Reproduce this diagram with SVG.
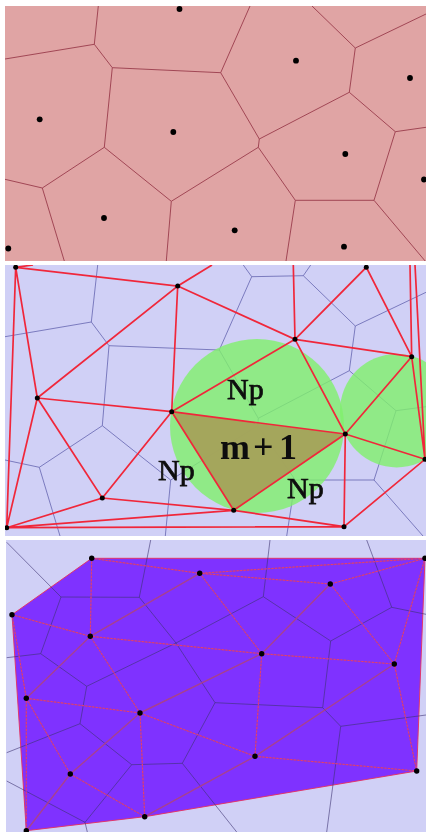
<svg xmlns="http://www.w3.org/2000/svg" width="426" height="832" viewBox="0 0 426 832">
<defs>
<style>
.pt{fill:#000}
.v1{fill:none;stroke:#9A3C4C;stroke-width:.9}
.v2{fill:none;stroke:#6464B0;stroke-width:.8}
.v3{fill:none;stroke:#3A3070;stroke-width:.9;stroke-opacity:.65}
.r2{fill:none;stroke:#F0283A;stroke-width:1.7}
.r3{fill:none;stroke:#A8408E;stroke-width:1.4}
.u3{fill:none;stroke:#9C3CB4;stroke-width:1.2}
.d3{fill:none;stroke:#F03A6A;stroke-width:1;stroke-dasharray:2 1.5}
text{font-family:"Liberation Serif","Times New Roman",serif;fill:#111}
.np{font-size:30px;stroke:#111;stroke-width:.75}
.m{font-size:36px;font-weight:bold}
</style>
<filter id="soft" x="0" y="0" width="100%" height="100%"><feGaussianBlur stdDeviation="0.45"/></filter>
<clipPath id="c1"><rect x="5" y="6" width="421" height="255"/></clipPath>
<clipPath id="c2"><rect x="5" y="265" width="421" height="271"/></clipPath>
<clipPath id="c3"><rect x="6" y="540" width="420" height="292"/></clipPath>
</defs>
<rect width="426" height="832" fill="#fff"/>
<g filter="url(#soft)">
<g id="panel-voronoi">
<rect x="5" y="6" width="421" height="255" fill="#E0A4A4"/>
<g id="voronoi-edges" class="v1" clip-path="url(#c1)">
<path d="M98.3 6L94.3 44.3L5 59M94.3 44.3L112.3 67.7L220.7 72.7L250 6M112.3 67.7L104.3 147.3L42.3 188L5 179.3M42.3 188L64.3 261M104.3 147.3L171.3 201.3L166.3 261M171.3 201.3L258.3 147.3L259.3 139L220.7 72.7M259.3 139L349.3 92.3L355.3 48L312 6M355.3 48L426 14M349.3 92.3L395.3 131.7L426 127.3M395.3 131.7L374 200.3L295.3 200.3L258.3 147.3M295.3 200.3L286 261M374 200.3L426 262"/>
</g>
<g id="voronoi-sites" class="pt" clip-path="url(#c1)">
<circle cx="179.5" cy="9" r="2.9"/><circle cx="296" cy="60.7" r="2.9"/><circle cx="410" cy="78" r="2.9"/><circle cx="39.7" cy="119.3" r="2.9"/><circle cx="173.3" cy="132" r="2.9"/><circle cx="345.3" cy="154" r="2.9"/><circle cx="424" cy="179.5" r="2.9"/><circle cx="104" cy="218" r="2.9"/><circle cx="234.7" cy="230.3" r="2.9"/><circle cx="344" cy="246.7" r="2.9"/><circle cx="8.3" cy="248.5" r="2.9"/>
</g>
</g>
<g id="panel-delaunay">
<rect x="5" y="265" width="421" height="271" fill="#D0D0F6"/>
<g id="voronoi-edges-2" class="v2" clip-path="url(#c2)">
<path d="M97.7 265L91.3 322L5 336.7M91.3 322L109 345.7L219.3 350L251.7 276.7L243.3 265M251.7 276.7L303.3 275.7L310.7 265M303.3 275.7L355.3 326L426 292.3M355.3 326L349.3 370.7L258.3 418.3L219.3 350M258.3 418.3L257.7 425.7L170.7 480L165.3 536M109 345.7L102.3 425.7L39.3 467.3L5 460M39.3 467.3L60 536M102.3 425.7L170.7 480M257.7 425.7L295.3 480L374 480L396 410.7L349.3 370.7M396 410.7L426 406.7M295.3 480L286.7 536M374 480L423 536"/>
</g>
<g id="circles" clip-path="url(#c2)">
<circle cx="257" cy="426" r="87" fill="#80F06C" fill-opacity=".8"/>
<circle cx="396.7" cy="410.7" r="56.7" fill="#80F06C" fill-opacity=".8"/>
<polygon points="171.7,411.7 345.3,434 233.7,510.3" fill="#A6A058" fill-opacity=".93"/>
</g>
<g id="delaunay-edges" class="r2" clip-path="url(#c2)">
<path d="M15.7 267.3L177.7 286L212 265M15.7 267.3L6.7 527.7M15.7 267.3L37.3 398M15.7 267.3L33 265M37.3 398L177.7 286L171.7 411.7M177.7 286L295 339.3L293.3 265M295 339.3L366.3 267.3L411.7 356.7L410 265M295 339.3L411.7 356.7M295 339.3L171.7 411.7M295 339.3L345.3 434L411.7 356.7L425 459.3L415 265M37.3 398L171.7 411.7L345.3 434L425 459.3L344 526.7L6.7 527.7L102.3 498L171.7 411.7L233.7 510.3L345.3 434L344 526.7L233.7 510.3L102.3 498L37.3 398L6.7 527.7M233.7 510.3L6.7 527.7"/>
</g>
<g id="delaunay-sites" class="pt" clip-path="url(#c2)">
<circle cx="15.7" cy="267.3" r="2.5"/><circle cx="177.7" cy="286" r="2.5"/><circle cx="295" cy="339.3" r="2.5"/><circle cx="366.3" cy="267.3" r="2.5"/><circle cx="411.7" cy="356.7" r="2.5"/><circle cx="37.3" cy="398" r="2.5"/><circle cx="171.7" cy="411.7" r="2.5"/><circle cx="345.3" cy="434" r="2.5"/><circle cx="425" cy="459.3" r="2.5"/><circle cx="102.3" cy="498" r="2.5"/><circle cx="233.7" cy="510.3" r="2.5"/><circle cx="344" cy="526.7" r="2.5"/><circle cx="6.7" cy="527.7" r="2.5"/>
</g>
<g id="labels">
<text class="np" x="227" y="399">Np</text>
<text class="np" x="158" y="480">Np</text>
<text class="np" x="287" y="498">Np</text>
<text class="m" x="220 253 279" y="459">m+1</text>
</g>
</g>
<g id="panel-hull">
<rect x="6" y="540" width="420" height="292" fill="#D0D0F6"/>
<polygon id="hull" points="91.7,558.3 425,558.3 416.7,771 144.7,816.7 26.3,830.7 12,614.7" fill="#7F33FF" stroke="#E8305A" stroke-width=".9"/>
<g id="voronoi-edges-3" class="v3" clip-path="url(#c3)">
<path d="M6.7 542.3L61 597L139.3 597.3L150.7 540M61 597L40.7 653.7L6.7 657.7M40.7 653.7L86.7 686.3L176 643L139.3 597.3M176 643L263.3 596.7L270 540M263.3 596.7L330.7 641L391.7 607.3L366.7 540M391.7 607.3L426 614.3M330.7 641L322.7 707.7L215 702.7L176 643M322.7 707.7L340.7 726.3L426 715M340.7 726.3L326.7 832M215 702.7L182.3 763.3L131.7 764.7L80 723.7L86.7 686.3M182.3 763.3L236.7 832M131.7 764.7L85 822.3L87.3 832M80 723.7L6.7 752.7M6.7 781L85 822.3"/>
</g>
<g id="hull-edges" clip-path="url(#c3)">
<path class="r3" d="M199.7 573.3L90.3 636.3L26.3 698.3M140 713L261.7 653.7L330.3 584M255 756.3L394.3 664M144.7 816.7L255 756.3M26.3 830.7L70.3 774L140 713"/>
<path class="u3" d="M91.7 558.3L199.7 573.3L330.3 584L425 558.3L199.7 573.3M12 614.7L90.3 636.3L261.7 653.7L394.3 664M26.3 698.3L140 713L255 756.3L416.7 771M91.7 558.3L90.3 636.3L140 713L144.7 816.7L70.3 774L26.3 698.3M199.7 573.3L261.7 653.7L255 756.3M330.3 584L394.3 664L416.7 771M394.3 664L425 558.3M12 614.7L26.3 698.3L26.3 830.7"/>
<path class="d3" d="M91.7 558.3L199.7 573.3L330.3 584L425 558.3L199.7 573.3M12 614.7L90.3 636.3L261.7 653.7L394.3 664M26.3 698.3L140 713L255 756.3L416.7 771M91.7 558.3L90.3 636.3L140 713L144.7 816.7L70.3 774L26.3 698.3M199.7 573.3L261.7 653.7L255 756.3M330.3 584L394.3 664L416.7 771M394.3 664L425 558.3M12 614.7L26.3 698.3L26.3 830.7"/>
</g>
<g id="hull-sites" class="pt" clip-path="url(#c3)">
<circle cx="91.7" cy="558.3" r="2.7"/><circle cx="425" cy="558.3" r="2.7"/><circle cx="199.7" cy="573.3" r="2.7"/><circle cx="330.3" cy="584" r="2.7"/><circle cx="12" cy="614.7" r="2.7"/><circle cx="90.3" cy="636.3" r="2.7"/><circle cx="261.7" cy="653.7" r="2.7"/><circle cx="394.3" cy="664" r="2.7"/><circle cx="26.3" cy="698.3" r="2.7"/><circle cx="140" cy="713" r="2.7"/><circle cx="255" cy="756.3" r="2.7"/><circle cx="416.7" cy="771" r="2.7"/><circle cx="70.3" cy="774" r="2.7"/><circle cx="144.7" cy="816.7" r="2.7"/><circle cx="26.3" cy="830.7" r="2.7"/>
</g>
</g>
</g>
</svg>
